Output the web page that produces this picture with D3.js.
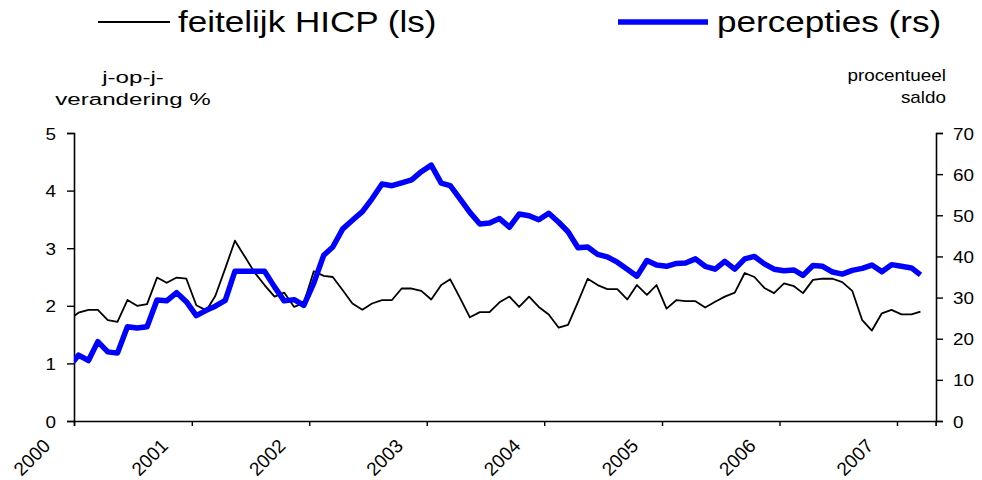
<!DOCTYPE html>
<html><head><meta charset="utf-8">
<script src="https://cdn.jsdelivr.net/npm/d3@7"></script>
<style>
html,body{margin:0;padding:0;background:#fff;}
svg{display:block;font-family:"Liberation Sans",Arial,sans-serif;}
</style></head>
<body>
<svg id="chart" width="982" height="480"></svg>
<script>
// Months Dec 1999 .. Mar 2007 (mid-month observations)
const months = d3.utcMonth.range(new Date(Date.UTC(1999,11,1)), new Date(Date.UTC(2007,3,1))).map(d => new Date(Date.UTC(d.getUTCFullYear(), d.getUTCMonth(), 15)));
const hicp = [1.75,1.88,1.93,1.93,1.75,1.72,2.10,2.00,2.03,2.49,2.40,2.49,
 2.47,2.01,1.92,2.17,2.65,3.13,2.85,2.58,2.36,2.16,2.23,1.98,
 2.05,2.60,2.52,2.50,2.27,2.04,1.93,2.04,2.10,2.10,2.30,2.30,
 2.26,2.11,2.36,2.46,2.13,1.80,1.89,1.89,2.06,2.16,1.98,2.16,
 1.98,1.85,1.62,1.67,2.07,2.47,2.36,2.29,2.29,2.11,2.36,2.19,
 2.36,1.95,2.10,2.08,2.08,1.97,2.07,2.16,2.23,2.57,2.50,2.31,
 2.22,2.39,2.34,2.22,2.45,2.47,2.47,2.41,2.26,1.75,1.57,1.87,
 1.93,1.85,1.85,1.90];
const perceptions = [13.0,16.0,14.7,19.3,16.8,16.5,22.9,22.6,22.9,29.4,29.2,31.2,
 29.0,25.6,26.9,27.9,29.3,36.4,36.4,36.4,36.4,32.6,29.2,29.5,
 28.1,33.5,40.3,42.3,46.7,48.8,50.9,54.0,57.6,57.2,57.9,58.6,
 60.6,62.2,57.8,57.2,53.9,50.7,47.9,48.1,49.2,47.1,50.3,49.9,
 48.9,50.5,48.3,46.0,42.1,42.3,40.5,39.9,38.6,36.9,35.2,39.0,
 37.9,37.6,38.3,38.4,39.4,37.6,36.9,38.8,36.9,39.4,40.0,38.2,
 36.9,36.5,36.7,35.4,37.8,37.6,36.2,35.7,36.6,37.1,37.9,36.3,
 38.0,37.6,37.2,35.5];
const yearLabels = ["2000","2001","2002","2003","2004","2005","2006","2007"];
const leftTicks = [0,1,2,3,4,5];
const rightTicks = [0,10,20,30,40,50,60,70];
const seriesNames = ["feitelijk HICP (ls)", "percepties (rs)"];
const leftTitle = ["j-op-j-", "verandering %"];
const rightTitle = ["procentueel", "saldo"];

const svg = d3.select("#chart");
const L = 74, R = 935.6, T = 133, B = 421;
const x = d3.scaleUtc().domain([new Date(Date.UTC(2000,0,1)), new Date(Date.UTC(2007,4,1))]).range([L, R]);
const yL = d3.scaleLinear().domain([0,5]).range([B, T]);
const yR = d3.scaleLinear().domain([0,70]).range([B, T]);
const FS = 16, SX = 1.18;
const tf = "Liberation Sans, Arial, sans-serif";

svg.append("defs").append("clipPath").attr("id","plotclip")
  .append("rect").attr("x", L).attr("y", T-10).attr("width", R-L).attr("height", B-T+10);

// axes
const gL = svg.append("g").attr("transform", `translate(${L},0)`)
  .call(d3.axisLeft(yL).tickValues(leftTicks).tickSize(7).tickFormat(d3.format("d")));
const gR = svg.append("g").attr("transform", `translate(${Math.round(R)},0)`)
  .call(d3.axisRight(yR).tickValues(rightTicks).tickSize(7).tickFormat(d3.format("d")));
const yearDates = yearLabels.map(s => new Date(Date.UTC(+s,0,1)));
const gB = svg.append("g").attr("transform", `translate(0,${B})`)
  .call(d3.axisBottom(x).tickValues(yearDates).tickSize(5).tickFormat((d,i) => yearLabels[i]));
[gL,gR,gB].forEach(g => {
  g.select(".domain").attr("stroke","#000").attr("stroke-width",1.6);
  g.selectAll(".tick line").attr("stroke","#000").attr("stroke-width",1.4);
  g.selectAll("text").attr("fill","#000").attr("font-size",FS).attr("font-family",tf);
});
gL.selectAll(".tick text").attr("x", null).attr("dy", null)
  .attr("transform", `translate(-18,6) scale(${SX},1)`).attr("text-anchor","end");
gR.selectAll(".tick text").attr("x", null).attr("dy", null)
  .attr("transform", `translate(17,6) scale(${SX},1)`).attr("text-anchor","start");
gB.selectAll(".tick text").attr("y", null).attr("dy", null)
  .attr("font-size", 19)
  .attr("text-anchor","end")
  .attr("transform", "translate(-23,26) rotate(-45)");

// lines
const plot = svg.append("g").attr("clip-path","url(#plotclip)");
const lineL = d3.line().x((d,i) => x(months[i])).y(d => yL(d));
const lineR = d3.line().x((d,i) => x(months[i])).y(d => yR(d));
plot.append("path").datum(hicp).attr("d", lineL)
  .attr("fill","none").attr("stroke","#000").attr("stroke-width",1.8).attr("stroke-linejoin","round");
plot.append("path").datum(perceptions).attr("d", lineR)
  .attr("fill","none").attr("stroke","#0000FF").attr("stroke-width",5.5).attr("stroke-linejoin","round");

// axis titles
leftTitle.forEach((t,i) => {
  svg.append("text").attr("transform", `translate(133,${83 + i*22}) scale(1.42,1)`)
    .attr("text-anchor","middle").attr("font-size",17).attr("font-family",tf).text(t);
});
rightTitle.forEach((t,i) => {
  svg.append("text").attr("transform", `translate(946,${81 + i*22}) scale(${SX},1)`)
    .attr("text-anchor","end").attr("font-size",FS).attr("font-family",tf).text(t);
});

// legend
const leg = [{x1:98,x2:170,tx:178,color:"#000",w:1.8},{x1:618,x2:708,tx:717,color:"#0000FF",w:5.5}];
leg.forEach((l,i) => {
  svg.append("line").attr("x1",l.x1).attr("x2",l.x2).attr("y1",22).attr("y2",22)
    .attr("stroke",l.color).attr("stroke-width",l.w);
  svg.append("text").attr("transform", `translate(${l.tx},32) scale(1.21,1)`)
    .attr("font-size",29).attr("font-family",tf).attr("fill","#000").text(seriesNames[i]);
});
</script>
</body></html>
